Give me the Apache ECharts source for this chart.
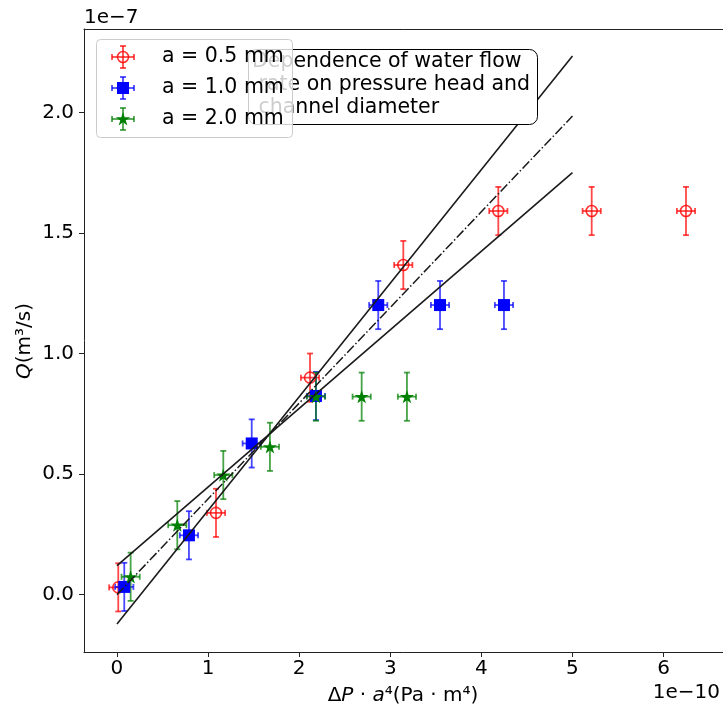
<!DOCTYPE html>
<html><head><meta charset="utf-8">
<script src="https://cdn.jsdelivr.net/npm/echarts@6/dist/echarts.min.js"></script>
<style>html,body{margin:0;padding:0;background:#fff}#c{width:723px;height:708px}</style>
</head><body><div id="c"></div>
<script>
// values: x in units of 1e-10 Pa·m^4, y in units of 1e-7 m^3/s
const redX   = [0.014, 1.087, 2.119, 3.143, 4.186, 5.211, 6.246];
const redY   = [0.030, 0.339, 0.900, 1.367, 1.591, 1.591, 1.591];
const blueX  = [0.080, 0.790, 1.479, 2.184, 2.868, 3.546, 4.248];
const blueY  = [0.032, 0.246, 0.627, 0.824, 1.201, 1.201, 1.201];
const greenX = [0.150, 0.662, 1.167, 1.679, 2.184, 2.686, 3.183];
const greenY = [0.074, 0.288, 0.496, 0.613, 0.821, 0.821, 0.821];
const xErr = 0.1, yErr = 0.1;
const fitSteepX = [0, 5], fitSteepY = [-0.122, 2.234];
const fitFlatX  = [0, 5], fitFlatY  = [0.120, 1.750];
const fitMeanX  = [0, 5], fitMeanY  = [0.000, 1.985];
const xTicks = [0, 1, 2, 3, 4, 5, 6];
const yTicks = [0, 0.5, 1.0, 1.5, 2.0];
const seriesNames = ['a = 0.5 mm', 'a = 1.0 mm', 'a = 2.0 mm'];
const boxText = 'Dependence of water flow\n rate on pressure head and\n channel diameter';

const FONT = 'DejaVu Sans';
const pairs = (xs, ys) => xs.map((x, i) => [x, ys[i]]);

function starPoints(cx, cy, R) {
  const r = R * 0.381966, pts = [];
  for (let k = 0; k < 10; k++) {
    const ang = -Math.PI / 2 + k * Math.PI / 5;
    const rr = k % 2 === 0 ? R : r;
    pts.push([cx + rr * Math.cos(ang), cy + rr * Math.sin(ang)]);
  }
  return pts;
}
const starPath = 'path://' + starPoints(0, 0, 10).map((p, i) => (i ? 'L' : 'M') + p[0].toFixed(3) + ',' + p[1].toFixed(3)).join(' ') + 'Z';

function errRender(color) {
  return function (params, api) {
    const x = api.value(0), y = api.value(1);
    const v0 = api.coord([x, y - yErr]), v1 = api.coord([x, y + yErr]);
    const h0 = api.coord([x - xErr, y]), h1 = api.coord([x + xErr, y]);
    const c = 3;
    const st = { stroke: color, lineWidth: 1.8 };
    const L = (x1, y1, x2, y2) => ({ type: 'line', shape: { x1, y1, x2, y2 }, style: st });
    return { type: 'group', children: [
      L(v0[0], v0[1], v1[0], v1[1]),
      L(v0[0] - c, v0[1], v0[0] + c, v0[1]),
      L(v1[0] - c, v1[1], v1[0] + c, v1[1]),
      L(h0[0], h0[1], h1[0], h1[1]),
      L(h0[0], h0[1] - c, h0[0], h0[1] + c),
      L(h1[0], h1[1] - c, h1[0], h1[1] + c)
    ]};
  };
}

const RED = '#ff0000', BLUE = '#0000ff', GREEN = '#008000';
const RED_A = 'rgba(255,0,0,0.72)', BLUE_A = 'rgba(0,0,255,0.72)', GREEN_A = 'rgba(0,128,0,0.72)';

const series = [
  { type: 'custom', name: seriesNames[0] + ' err', renderItem: errRender(RED_A), data: pairs(redX, redY), encode: { x: 0, y: 1 }, silent: true },
  { type: 'scatter', name: seriesNames[0], data: pairs(redX, redY), symbol: 'circle', symbolSize: 11,
    itemStyle: { color: 'rgba(0,0,0,0)', borderColor: 'rgba(255,0,0,0.8)', borderWidth: 1.6, opacity: 1 } },
  { type: 'custom', name: seriesNames[1] + ' err', renderItem: errRender(BLUE_A), data: pairs(blueX, blueY), encode: { x: 0, y: 1 }, silent: true },
  { type: 'scatter', name: seriesNames[1], data: pairs(blueX, blueY), symbol: 'rect', symbolSize: 12,
    itemStyle: { color: BLUE, opacity: 1 } },
  { type: 'custom', name: seriesNames[2] + ' err', renderItem: errRender(GREEN_A), data: pairs(greenX, greenY), encode: { x: 0, y: 1 }, silent: true },
  { type: 'scatter', name: seriesNames[2], data: pairs(greenX, greenY), symbol: starPath, symbolSize: 14, symbolKeepAspect: true,
    itemStyle: { color: GREEN, opacity: 1 } },
  { type: 'line', name: 'fit steep', data: pairs(fitSteepX, fitSteepY), showSymbol: false, lineStyle: { color: '#1a1a1a', width: 1.6 } },
  { type: 'line', name: 'fit flat', data: pairs(fitFlatX, fitFlatY), showSymbol: false, lineStyle: { color: '#1a1a1a', width: 1.6 } },
  { type: 'line', name: 'fit mean', data: pairs(fitMeanX, fitMeanY), showSymbol: false,
    lineStyle: { color: '#1a1a1a', width: 1.5, type: [9.6, 2.4, 1.5, 2.4] } }
];

// legend drawn as graphic (matplotlib style)
const legX = 96, legY = 39, legW = 196, legH = 98;
const rowY = [57, 88, 119], mkX = 123, txtX = 162;
function legendErr(cx, cy, color) {
  const st = { stroke: color, lineWidth: 1.8 }, a = 11, c = 3;
  const L = (x1, y1, x2, y2) => ({ type: 'line', z: 21, shape: { x1, y1, x2, y2 }, style: st });
  return [L(cx, cy - a, cx, cy + a), L(cx - c, cy - a, cx + c, cy - a), L(cx - c, cy + a, cx + c, cy + a),
          L(cx - a, cy, cx + a, cy), L(cx - a, cy - c, cx - a, cy + c), L(cx + a, cy - c, cx + a, cy + c)];
}
const legendEls = [
  { type: 'rect', z: 20, shape: { x: legX + 0.5, y: legY + 0.5, width: legW, height: legH, r: 4 },
    style: { fill: 'rgba(255,255,255,0.8)', stroke: '#cccccc', lineWidth: 1 } },
  ...legendErr(mkX, rowY[0], RED_A),
  { type: 'circle', z: 22, shape: { cx: mkX, cy: rowY[0], r: 5.5 }, style: { fill: 'none', stroke: 'rgba(255,0,0,0.8)', lineWidth: 1.6 } },
  ...legendErr(mkX, rowY[1], BLUE_A),
  { type: 'rect', z: 22, shape: { x: mkX - 6, y: rowY[1] - 6, width: 12, height: 12 }, style: { fill: BLUE } },
  ...legendErr(mkX, rowY[2], GREEN_A),
  { type: 'polygon', z: 22, shape: { points: starPoints(mkX, rowY[2] + 0.5, 7.5) }, style: { fill: GREEN } }
];
seriesNames.forEach((n, i) => legendEls.push({ type: 'text', z: 22, x: txtX, y: rowY[i],
  style: { text: n, font: '20.5px "' + FONT + '"', fill: '#000', verticalAlign: 'middle', align: 'left' } }));

const graphics = [
  { type: 'rect', z: 10, shape: { x: 248.5, y: 49.5, width: 289, height: 75, r: 8 },
    style: { fill: '#fff', stroke: '#000', lineWidth: 1 } },
  { type: 'text', z: 11, x: 252, y: 50.5,
    style: { text: boxText, font: '20.5px "' + FONT + '"', fill: '#000', lineHeight: 23, verticalAlign: 'top', align: 'left' } },
  ...legendEls,
  { type: 'text', x: 84, y: 18, style: { text: '1e\u22127', font: '20px "' + FONT + '"', fill: '#000', verticalAlign: 'middle', align: 'left' } },
  { type: 'text', x: 720, y: 693, style: { text: '1e\u221210', font: '20px "' + FONT + '"', fill: '#000', verticalAlign: 'middle', align: 'right' } },
  { type: 'text', x: 403, y: 696,
    style: { text: '{n|\u0394}{i|P}{n| \u00b7 }{i|a}{n|\u2074(Pa \u00b7 m\u2074)}', align: 'center', verticalAlign: 'middle',
      rich: { n: { font: '20px "' + FONT + '"', fill: '#000' }, i: { font: 'italic 20px "' + FONT + '"', fill: '#000' } } } },
  { type: 'text', x: 25, y: 341, rotation: Math.PI / 2,
    style: { text: '{i|Q}{n|(m\u00b3/s)}', align: 'center', verticalAlign: 'middle',
      rich: { n: { font: '20px "' + FONT + '"', fill: '#000' }, i: { font: 'italic 20px "' + FONT + '"', fill: '#000' } } } }
];

const X_MIN = -0.362, X_MAX = 6.75;
const chart = echarts.init(document.getElementById('c'), null, { renderer: 'canvas' });
chart.setOption({
  animation: false,
  backgroundColor: '#fff',
  grid: { left: 84, top: 29, width: 647.9, height: 623, show: false, containLabel: false, outerBoundsMode: 'none' },
  xAxis: [{
    type: 'value', min: X_MIN, max: X_MAX, position: 'bottom',
    axisLine: { show: true, onZero: false, lineStyle: { color: '#222', width: 1 } },
    axisTick: { show: true, length: 5, inside: false, customValues: xTicks, lineStyle: { color: '#222' } },
    axisLabel: { customValues: xTicks, margin: 7, color: '#000', fontFamily: FONT, fontSize: 20, formatter: v => String(v) },
    splitLine: { show: false }
  }, {
    type: 'value', min: X_MIN, max: X_MAX, position: 'top',
    axisLine: { show: true, onZero: false, lineStyle: { color: '#222', width: 1 } },
    axisTick: { show: false }, axisLabel: { show: false }, splitLine: { show: false }
  }],
  yAxis: {
    type: 'value', min: -0.238, max: 2.346,
    axisLine: { show: true, onZero: false, lineStyle: { color: '#222', width: 1 } },
    axisTick: { show: true, length: 5, inside: false, customValues: yTicks, lineStyle: { color: '#222' } },
    axisLabel: { customValues: yTicks, margin: 10, color: '#000', fontFamily: FONT, fontSize: 20, formatter: v => v.toFixed(1) },
    splitLine: { show: false }
  },
  series: series,
  graphic: graphics
});
</script></body></html>
